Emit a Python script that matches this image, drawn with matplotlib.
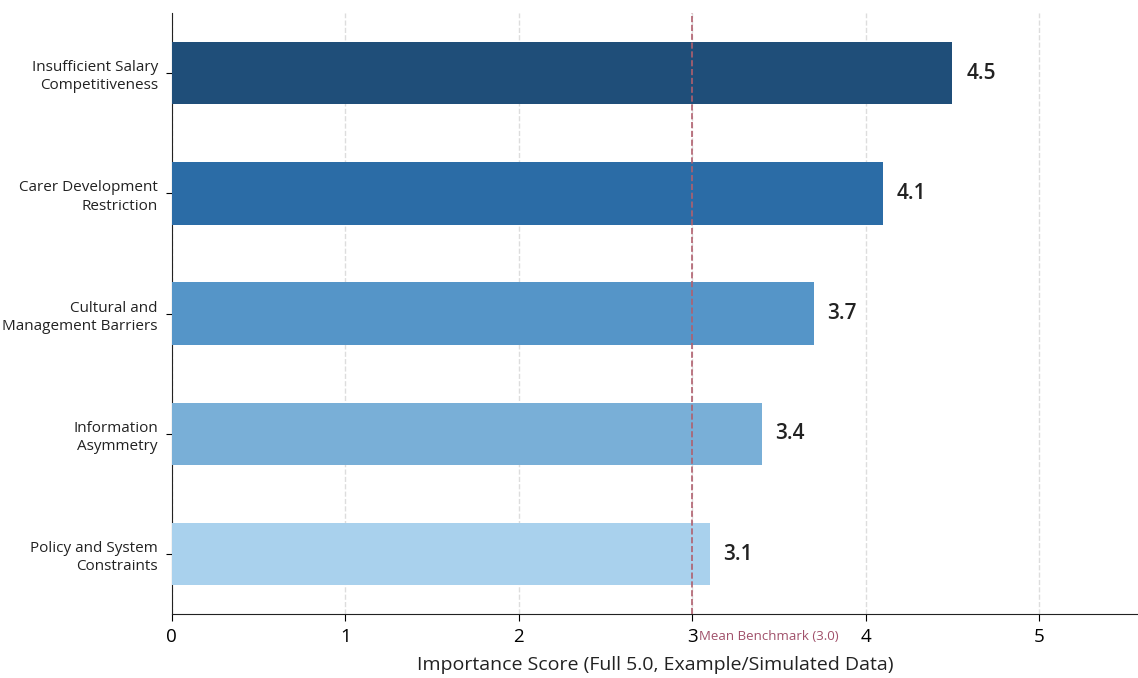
import numpy as np
import matplotlib.pyplot as plt

plt.rcParams['font.family'] = ['Open Sans', 'DejaVu Sans']

categories = ['Insufficient Salary\nCompetitiveness',
              'Carer Development\nRestriction',
              'Cultural and\nManagement Barriers',
              'Information\nAsymmetry',
              'Policy and System\nConstraints']
scores = [4.5, 4.1, 3.7, 3.4, 3.1]
colors = ['#1f4e79', '#2b6ca6', '#5595c8', '#79afd7', '#a9d1ed']
benchmark = 3.0

fig = plt.figure(figsize=(11.38, 6.78), dpi=100)
ax = fig.add_axes([0.151, 0.094, 0.849, 0.887])

y = np.arange(len(categories))[::-1]
ax.barh(y, scores, height=0.52, color=colors, zorder=3)

for yi, s in zip(y, scores):
    ax.text(s + 0.08, yi, f'{s:.1f}', va='center', ha='left',
            fontsize=15, fontweight='semibold', color='#222222')

ax.axvline(benchmark, color='#b0606e', linestyle='--', linewidth=1.2, zorder=4)
# label sits just under the axis line, on the tick label row
ax.text(benchmark + 0.04, -0.63, 'Mean Benchmark (3.0)',
        va='top', ha='left', fontsize=9.5, color='#a0506a')

ax.set_xlim(0, 5.57)
ax.set_ylim(-0.5, 4.5)
ax.set_yticks(y)
ax.set_yticklabels(categories, fontsize=11, color='#222222', linespacing=1.3)
ax.set_xticks([0, 1, 2, 3, 4, 5])
ax.tick_params(axis='x', labelsize=13.5, length=5, pad=5)
ax.tick_params(axis='y', length=4, pad=6)
ax.set_xlabel('Importance Score (Full 5.0, Example/Simulated Data)', fontsize=14,
              color='#222222', labelpad=7)

ax.grid(axis='x', linestyle='--', color='#dddddd', linewidth=1, zorder=0)
ax.spines['top'].set_visible(False)
ax.spines['right'].set_visible(False)
ax.spines['left'].set_color('#222222')
ax.spines['bottom'].set_color('#222222')

plt.savefig('out.png', dpi=100)
